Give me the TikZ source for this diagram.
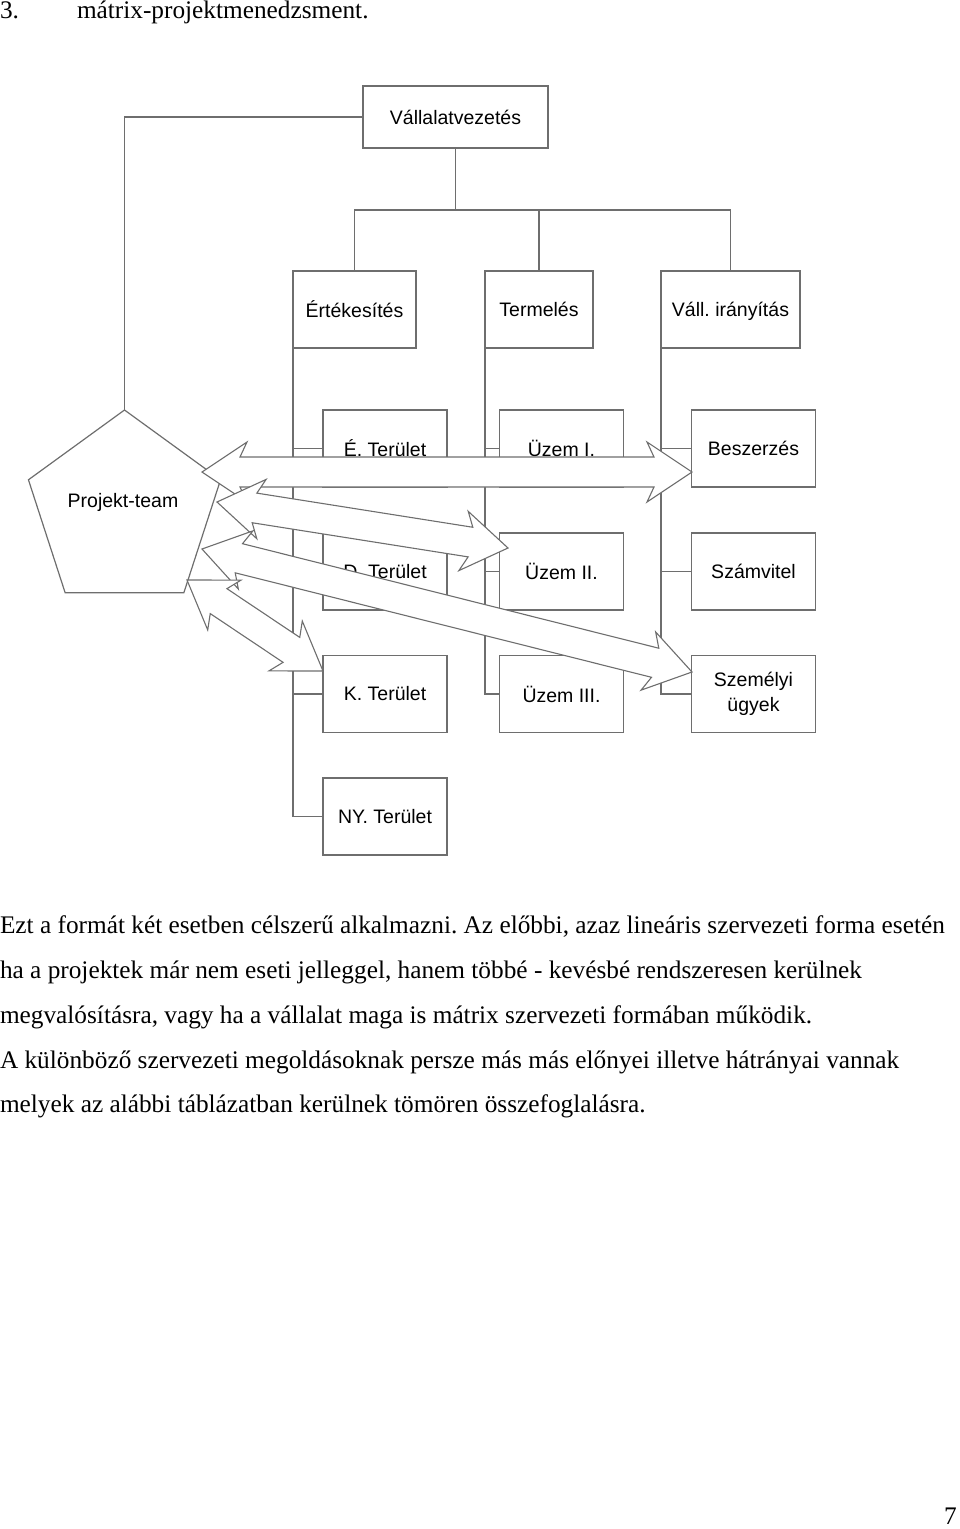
\documentclass[tikz,border=0pt]{standalone}
\usepackage{fontspec}
\setmainfont{Liberation Serif}
\newfontfamily\diagfont{Liberation Sans}
\usetikzlibrary{calc,shapes.geometric}
\definecolor{linecol}{RGB}{110,110,110}
\frenchspacing
\tikzset{
  box/.style={draw=linecol, line width=1.2pt, fill=white, inner sep=0pt, outer sep=0pt,
    font=\diagfont\fontsize{19.5}{25}\selectfont, align=center},
  conn/.style={draw=linecol, line width=1.2pt},
  blockarr/.style={draw=linecol, line width=1.1pt, fill=white, line join=miter},
  bodytext/.style={anchor=base west, inner sep=0pt, outer sep=0pt, font=\fontsize{25.3}{30}\selectfont},
}
\newcommand\dblarrow[2]{%
  \path[blockarr] (#1)
   -- ($(#1)!45pt!(#2)!30pt!90:(#2)$)
   -- ($(#1)!38pt!(#2)!15pt!90:(#2)$)
   -- ($(#2)!38pt!(#1)!15pt!270:(#1)$)
   -- ($(#2)!45pt!(#1)!30pt!270:(#1)$)
   -- (#2)
   -- ($(#2)!45pt!(#1)!30pt!90:(#1)$)
   -- ($(#2)!38pt!(#1)!15pt!90:(#1)$)
   -- ($(#1)!38pt!(#2)!15pt!270:(#2)$)
   -- ($(#1)!45pt!(#2)!30pt!270:(#2)$)
   -- cycle;}
\begin{document}
\begin{tikzpicture}[x=1pt,y=-1pt]
\useasboundingbox (0,0) rectangle (960,1529);
% title
\node[bodytext] (tnum) at (0,18) {3.};
\node[bodytext] (title) at (77,18) {mátrix-projektmenedzsment.};
% top
\node[box, minimum width=185pt, minimum height=62pt] (vv) at (455.5,117) {Vállalatvezetés};
\node[box, minimum width=123pt, minimum height=77pt] (ert) at (354.5,309.5) {Értékesítés};
\node[box, minimum width=108pt, minimum height=77pt] (term) at (539,309.5) {Termelés};
\node[box, minimum width=139pt, minimum height=77pt, text depth=0pt] (vall) at (730.5,309.5) {Váll. irányítás};
\coordinate (bus) at (455.5,210);
\draw[conn] (vv.south) -- (bus);
\draw[conn] (ert.north) |- (bus) -| (vall.north);
\draw[conn] (term.north) -- (term.north |- bus);
% lower boxes
\tikzset{lbox/.style={box, minimum width=124pt, minimum height=77pt}}
\node[lbox] (et) at (385,448.5) {É. Terület};
\node[lbox] (dt) at (385,571.5) {D. Terület};
\node[lbox] (kt) at (385,694) {K. Terület};
\node[lbox] (nyt) at (385,816.5) {NY. Terület};
\node[lbox] (u1) at (561.5,448.5) {Üzem I.};
\node[lbox] (u2) at (561.5,571.5) {Üzem II.};
\node[lbox] (u3) at (561.5,694) {Üzem III.};
\node[lbox] (besz) at (753.5,448.5) {Beszerzés};
\node[lbox] (szam) at (753.5,571.5) {Számvitel};
\node[lbox] (szem) at (753.5,694) {Személyi\\ügyek};
\draw[conn] (ert.south west) |- (nyt.west);
\draw[conn] (ert.south west |- et.west) -- (et.west);
\draw[conn] (ert.south west |- dt.west) -- (dt.west);
\draw[conn] (ert.south west |- kt.west) -- (kt.west);
\draw[conn] (term.south west) |- (u3.west);
\draw[conn] (term.south west |- u1.west) -- (u1.west);
\draw[conn] (term.south west |- u2.west) -- (u2.west);
\draw[conn] (vall.south west) |- (szem.west);
\draw[conn] (vall.south west |- besz.west) -- (besz.west);
\draw[conn] (vall.south west |- szam.west) -- (szam.west);
% project team
\node[draw=linecol, line width=1.2pt, fill=white, regular polygon, regular polygon sides=5,
  minimum size=202pt, inner sep=0pt, outer sep=0pt] (pent) at (124.5,511) {};
\node[font=\diagfont\fontsize{19.5}{25}\selectfont, inner sep=0pt] (ptl) at (123,502) {Projekt-team};
\draw[conn] (vv.west) -| (pent.corner 1);
% block arrows
\coordinate (aL) at (202,472); \coordinate (aR) at (692,472);
\coordinate (bL) at (217,502); \coordinate (bR) at (508,548);
\coordinate (cL) at (202,549); \coordinate (cR) at (692,672);
\coordinate (dL) at (187,580); \coordinate (dR) at (323,671);
\dblarrow{aL}{aR}
\dblarrow{bL}{bR}
\dblarrow{cL}{cR}
\dblarrow{dL}{dR}
% body text
\node[bodytext] (l1) at (0,933) {Ezt a formát két esetben célszerű alkalmazni. Az előbbi, azaz lineáris szervezeti forma esetén};
\node[bodytext] (l2) at (0,978) {ha a projektek már nem eseti jelleggel, hanem többé - kevésbé rendszeresen kerülnek};
\node[bodytext] (l3) at (0,1023) {megvalósításra, vagy ha a vállalat maga is mátrix szervezeti formában működik.};
\node[bodytext] (l4) at (0,1068) {A különböző szervezeti megoldásoknak persze más más előnyei illetve hátrányai vannak};
\node[bodytext] (l5) at (0,1112) {melyek az alábbi táblázatban kerülnek tömören összefoglalásra.};
\node[anchor=base east, inner sep=0pt, font=\fontsize{25.3}{30}\selectfont] (pnum) at (957,1524) {7};
\end{tikzpicture}
\end{document}
